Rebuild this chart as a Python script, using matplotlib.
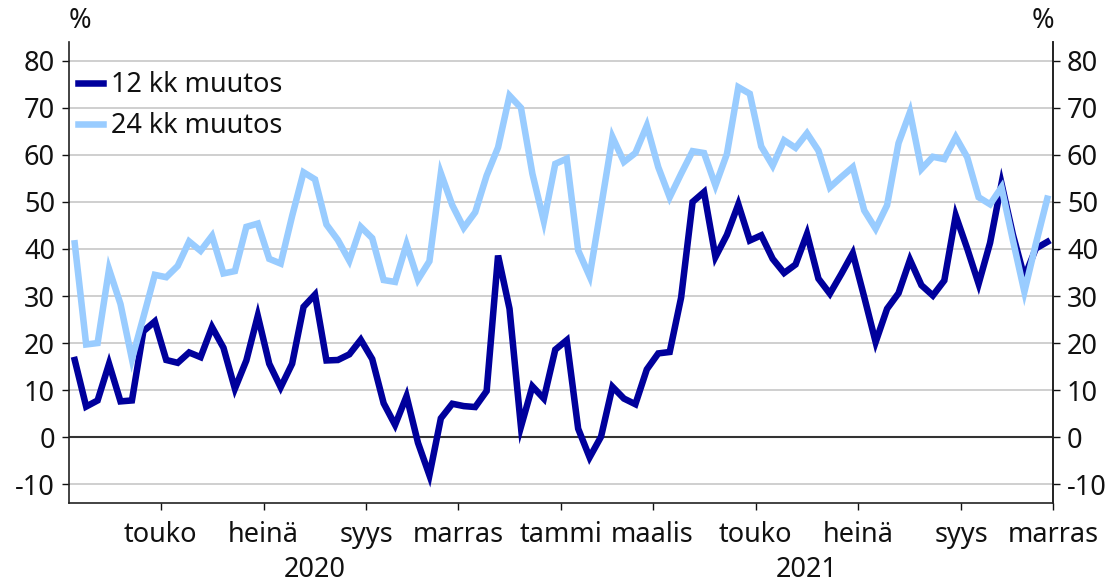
import matplotlib
matplotlib.use("Agg")
import matplotlib.pyplot as plt
import matplotlib.transforms as mtransforms
import numpy as np

plt.rcParams['font.family'] = ['Noto Sans', 'DejaVu Sans']

muutos_12kk = [16.4, 6.5, 7.8, 15.6, 7.6, 7.8, 22.5, 24.6, 16.4, 15.8,
               18.0, 17.0, 23.4, 19.0, 10.3, 16.3, 25.8, 15.6, 10.6, 15.6,
               27.7, 30.3, 16.3, 16.4, 17.6, 20.7, 16.6, 7.2, 2.6, 8.7,
               -1.2, -8.1, 4.0, 7.1, 6.6, 6.4, 9.8, 38.6, 27.3, 2.2,
               10.8, 8.2, 18.6, 20.6, 1.8, -4.3, 0.1, 10.7, 8.2, 7.0,
               14.4, 17.8, 18.1, 29.7, 50.0, 52.1, 38.3, 43.0, 49.5, 41.8,
               42.9, 37.9, 34.9, 36.7, 43.2, 33.7, 30.5, 34.7, 39.1, 29.8,
               20.2, 27.3, 30.6, 37.7, 32.3, 30.1, 33.3, 47.1, 40.1, 32.6,
               41.3, 53.9, 43.0, 34.0, 40.1, 41.5]
muutos_24kk = [41.2, 19.7, 20.0, 35.7, 28.3, 16.6, 25.5, 34.5, 34.0, 36.4,
               41.6, 39.6, 42.8, 34.8, 35.3, 44.7, 45.4, 37.9, 36.9, 47.0,
               56.3, 54.8, 45.2, 41.9, 37.5, 44.7, 42.3, 33.4, 33.0, 41.0,
               33.5, 37.4, 56.1, 49.3, 44.5, 47.8, 55.6, 61.6, 72.6, 70.0,
               56.0, 45.9, 58.1, 59.2, 39.7, 34.2, 48.9, 63.8, 58.5, 60.4,
               66.2, 57.4, 51.0, 56.0, 60.8, 60.4, 53.5, 60.2, 74.4, 73.0,
               61.8, 57.7, 63.1, 61.5, 64.6, 60.9, 53.1, 55.3, 57.4, 48.2,
               44.3, 49.3, 62.5, 69.1, 57.0, 59.6, 59.1, 63.8, 59.5, 51.0,
               49.5, 53.1, 41.8, 30.9, 41.1, 50.7]
series_labels = ['12 kk muutos', '24 kk muutos']
month_labels = ['touko', 'heinä', 'syys', 'marras', 'tammi', 'maalis',
                'touko', 'heinä', 'syys', 'marras']
month_start_week = [8, 17, 26, 34, 43, 51, 60, 69, 78, 86]
years = ['2020', '2021']
year_week_range = [(0, 43), (43, 86)]
yticks = [-10, 0, 10, 20, 30, 40, 50, 60, 70, 80]

dark = '#00009c'
light = '#99ccff'
txt = '#111111'
fs = 19.5

W, H = 1112, 583
fig = plt.figure(figsize=(W/100, H/100), dpi=100)
ax = fig.add_axes([69/W, 1-503/H, (1053-69)/W, (503-42)/H])

n = len(muutos_12kk)
x = np.arange(n)
ax.plot(x, muutos_12kk, color=dark, lw=4.7, label=series_labels[0],
        solid_joinstyle='miter', zorder=3)
ax.plot(x, muutos_24kk, color=light, lw=4.7, label=series_labels[1],
        solid_joinstyle='miter', zorder=4)

ax.set_xlim(-0.5, n - 0.5)
ax.set_ylim(-14, 84)
ax.set_yticks(yticks)
ax.set_yticklabels([str(v) for v in yticks], fontsize=fs)
for v in yticks:
    if v == 0:
        ax.axhline(v, color='#333333', lw=1.5, zorder=2)
    else:
        ax.axhline(v, color='#cccccc', lw=1.3, zorder=1)

ax.set_xticks([w - 0.5 for w in month_start_week])
ax.set_xticklabels(month_labels, fontsize=fs)
ax.tick_params(axis='x', length=5, width=1, pad=8, colors=txt)
ax.tick_params(axis='y', length=5, width=1, pad=5, colors=txt, labelsize=fs)

trans = mtransforms.blended_transform_factory(ax.transData, fig.transFigure)
for (a, b), yr in zip(year_week_range, years):
    ax.text((a + b) / 2 - 0.5, 1 - 570/H, yr, transform=trans,
            fontsize=fs, ha='center', va='center', color=txt, clip_on=False)

ax.spines['top'].set_visible(False)
for s in ['left', 'right', 'bottom']:
    ax.spines[s].set_color('#222222')
    ax.spines[s].set_linewidth(1.2)

ax2 = ax.twinx()
ax2.set_ylim(ax.get_ylim())
ax2.set_yticks(yticks)
ax2.set_yticklabels([str(v) for v in yticks], fontsize=fs)
ax2.tick_params(axis='y', length=5, width=1, pad=5, colors=txt, labelsize=fs)
for s in ['top', 'left', 'bottom']:
    ax2.spines[s].set_visible(False)
ax2.spines['right'].set_color('#222222')
ax2.spines['right'].set_linewidth(1.2)

fig.text(80/W, 1-21/H, '%', fontsize=fs, ha='center', va='center', color=txt)
fig.text(1043/W, 1-21/H, '%', fontsize=fs, ha='center', va='center', color=txt)

leg = fig.legend(loc='upper left', bbox_to_anchor=(78/W, 1-71/H),
                 frameon=False, fontsize=fs, handlelength=0.92,
                 handletextpad=0.3, labelspacing=0.48, borderpad=0,
                 borderaxespad=0)
for t in leg.get_texts():
    t.set_color(txt)

fig.savefig('out.png', dpi=100)
